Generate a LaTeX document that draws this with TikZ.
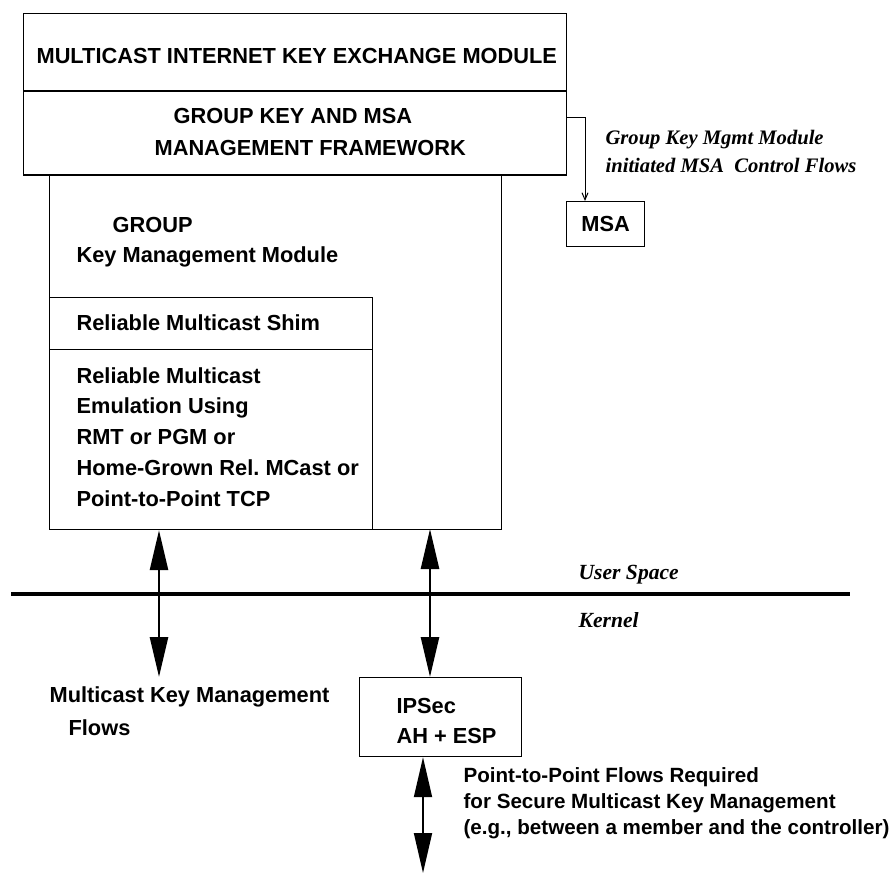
\documentclass[tikz,border=0pt]{standalone}
\usepackage{fontspec}
\setmainfont{Liberation Sans}
\newfontfamily\serifit{Liberation Serif}
\usetikzlibrary{arrows.meta, positioning}
\tikzset{every picture/.style={line width=1.2pt}}

\begin{document}
\begin{tikzpicture}[x=1pt, y=-1pt, inner sep=0pt,
        box/.style={draw, rectangle, anchor=north west, inner sep=0pt},
        lbl/.style={anchor=west, align=left, font=\bfseries\fontsize{21.8}{30.8}\selectfont},
        small/.style={anchor=west, align=left, font=\bfseries\fontsize{20.6}{25.8}\selectfont},
        note/.style={anchor=west, align=left, font=\serifit\bfseries\itshape\fontsize{20.6}{28}\selectfont},
        flow/.style={{Triangle[length=40pt,width=18pt]}-{Triangle[length=40pt,width=18pt]}, line width=2.6pt},
        ctrl/.style={-{Straight Barb[length=7pt,width=6pt]}, line width=1pt}]
        \useasboundingbox (0,0) rectangle (892,875);
        % boxes
        \node[box, minimum width=543pt, minimum height=77pt] (mike) at (23,13) {};
        \node[box, minimum width=543pt, minimum height=84pt] (frame) at (23,90) {};
        \node[box, minimum width=452pt, minimum height=355pt] (gkm) at (49,174) {};
        \node[box, minimum width=323pt, minimum height=52pt] (shim) at (49,297) {};
        \node[box, minimum width=323pt, minimum height=180pt] (emu) at (49,349) {};
        \node[box, minimum width=78pt, minimum height=45pt,
              font=\bfseries\fontsize{21.8}{26}\selectfont] (msa) at (566,201) {MSA};
        \node[box, minimum width=162pt, minimum height=79pt] (ipsec) at (359,677) {};
        \draw[line width=2.2pt] (mike.south west) -- (mike.south east);
        \draw[line width=2.2pt] (frame.south west) -- (frame.south east);
        % texts
        \node[lbl] (title) at (36,56) {MULTICAST INTERNET KEY EXCHANGE MODULE};
        \node[lbl] (fw1) at (173,116) {GROUP KEY AND MSA};
        \node[lbl] (fw2) at (154,148) {MANAGEMENT FRAMEWORK};
        \node[lbl] (grp) at (112,225) {GROUP};
        \node[lbl] (kmm) at (76,257) {Key Management Module};
        \node[lbl] (shimtxt) at (76,323) {Reliable Multicast Shim};
        \node[lbl] (emutxt) at (76,437) {Reliable Multicast\\Emulation Using\\RMT or PGM or\\Home-Grown Rel.\ MCast or\\Point-to-Point TCP};
        \node[lbl] (mkm1) at (49,697) {Multicast Key Management};
        \node[lbl] (mkm2) at (68,728) {Flows};
        \node[lbl] (ipsectxt) at (396,721) {IPSec\\AH + ESP};
        \node[small] (ptptxt) at (463,803) {Point-to-Point Flows Required\\for Secure Multicast Key Management\\(e.g.,\ between a member and the controller)};
        \node[note] (ctrltxt) at (605,151) {Group Key Mgmt Module\\initiated MSA\ \ Control Flows};
        \node[note, font=\serifit\bfseries\itshape\fontsize{21.6}{26}\selectfont] (user) at (578,575) {User Space};
        \node[note, font=\serifit\bfseries\itshape\fontsize{21.6}{26}\selectfont] (kern) at (578,620) {Kernel};
        % user space / kernel boundary
        \coordinate (ks) at (11,594);
        \coordinate (ke) at (850,594);
        \draw[line width=4pt] (ks) -- (ke);
        % flows
        \coordinate (bend) at (585,117);
        \coordinate (kmf) at (159,677);
        \coordinate (sa) at (430,529);
        \coordinate (ptp) at (423,873);
        \draw[ctrl] (bend -| frame.east) -- (bend) -- (msa.north -| bend);
        \draw
            (gkm.south -| kmf) edge[flow] (kmf)
            (sa) edge[flow] (sa |- ipsec.north)
            (ipsec.south -| ptp) edge[flow, line width=1.8pt] (ptp)
            ;
    \end{tikzpicture}
\end{document}
